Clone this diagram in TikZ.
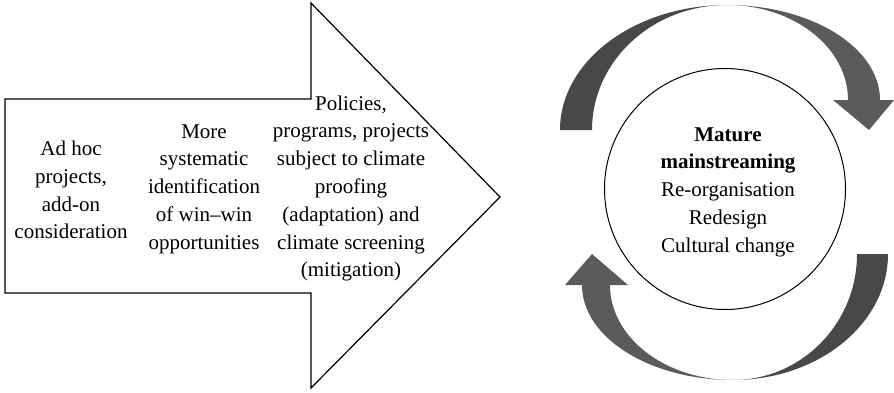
\documentclass[tikz,border=0pt]{standalone}
\usepackage{fontspec}
\setmainfont{Liberation Serif}
\definecolor{arrdark}{HTML}{484848}
\definecolor{arrlight}{HTML}{5B5B5B}
\tikzset{
  txt/.style={align=center, inner sep=0pt, font=\fontsize{21}{27.8}\selectfont},
  bigarrow/.style={draw=black, line width=1.2pt, fill=white},
  ring/.style={draw=black, line width=1pt, fill=white},
}
\begin{document}
\begin{tikzpicture}[x=1pt,y=1pt]
\useasboundingbox (0,0) rectangle (894,392);
% big block arrow
\draw[bigarrow] (5,293) -- (311,293) -- (311,389) -- (500,195) -- (311,4) -- (311,99) -- (5,99) -- cycle;
% texts in the arrow
\node[txt] (adhoc) at (71,202) {Ad hoc\\projects,\\add-on\\consideration};
\node[txt] (more) at (204,203) {More\\systematic\\identification\\of win–win\\opportunities};
\node[txt] (policies) at (351,203.5) {Policies,\\programs, projects\\subject to climate\\proofing\\(adaptation) and\\climate screening\\(mitigation)};
% top circular arrow
\fill[arrdark] (560,262) arc[start angle=180,end angle=90,x radius=167,y radius=125]
  arc[start angle=90,end angle=180,x radius=135,y radius=125] -- cycle;
\fill[arrlight] (727,387) arc[start angle=90,end angle=0,x radius=153,y radius=95]
  -- (894,292) -- (869,262) -- (833,292) -- (848,292)
  arc[start angle=0,end angle=90,x radius=121,y radius=95] -- cycle;
% bottom circular arrow
\fill[arrdark] (888,138) arc[start angle=0,end angle=-90,x radius=155,y radius=126]
  arc[start angle=-90,end angle=0,x radius=124,y radius=126] -- cycle;
\fill[arrlight] (733,12) arc[start angle=270,end angle=180,x radius=151,y radius=95]
  -- (565,107) -- (592,138) -- (628,107) -- (610,107)
  arc[start angle=180,end angle=270,x radius=123,y radius=95] -- cycle;
% circle
\node[ring, circle, minimum size=241pt, inner sep=0pt] (mature) at (725,203) {};
\node[txt] (maturetxt) at (728,200) {\textbf{Mature}\\\textbf{mainstreaming}\\Re-organisation\\Redesign\\Cultural change};
\end{tikzpicture}
\end{document}
